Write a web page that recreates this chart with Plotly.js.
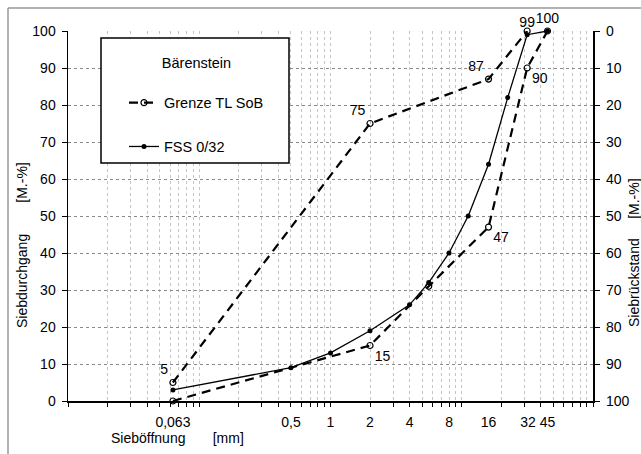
<!DOCTYPE html>
<html><head><meta charset="utf-8">
<script src="https://cdn.plot.ly/plotly-3.0.1.min.js"></script>
<style>html,body{margin:0;padding:0;background:#fff}#chart{width:641px;height:454px}</style>
</head><body><div id="chart"></div>
<script>
// Sieve sizes [mm] and passing [M.-%]
const sieveFSS = [0.063, 0.5, 1, 2, 4, 5.6, 8, 11.2, 16, 22.4, 31.5, 45];
const passFSS  = [3, 9, 13, 19, 26, 32, 40, 50, 64, 82, 99, 100];
const labelFSS = ['', '', '', '', '', '', '', '', '', '', '99', ''];

const sieveUpper = [0.063, 2, 16, 31.5];
const passUpper  = [5, 75, 87, 100];
const labelUpper = ['5', '75', '87', ''];

const sieveLower = [0.063, 2, 5.6, 16, 31.5, 45];
const passLower  = [0, 15, 31, 47, 90, 100];
const labelLower = ['', '15', '', '47', '90', '100'];

const xLabelVals = [0.063, 0.5, 1, 2, 4, 8, 16, 32, 45];
const xLabelText = ['0,063', '0,5', '1', '2', '4', '8', '16', '32', '45'];
const yTickVals  = [0, 10, 20, 30, 40, 50, 60, 70, 80, 90, 100];

// log grid positions 1..9 x 10^k from 0.01 to 100
const gridVals = [];
for (let k = -2; k <= 1; k++) for (let m = 1; m <= 9; m++) gridVals.push(+(m * Math.pow(10, k)).toPrecision(3));
gridVals.push(100);

const FONT = 'Liberation Sans, Arial, sans-serif';
const L = 68, R = 593, T = 31, B = 401, W = 641, H = 454;
const px = x => (x - L) / (R - L);
const py = y => (B - y) / (B - T);

const traces = [
  {
    x: sieveUpper, y: passUpper, text: labelUpper, name: 'Grenze TL SoB', legendgroup: 'g',
    mode: 'lines+markers+text', textposition: ['top left', 'top left', 'top left', 'top left'],
    textfont: {family: FONT, size: 14, color: '#000'},
    line: {color: '#000', width: 2.2, dash: '9px,6px'},
    marker: {symbol: 'circle-open', size: 6, color: '#000', line: {width: 1.2}},
    cliponaxis: false, hoverinfo: 'x+y'
  },
  {
    x: sieveLower, y: passLower, text: labelLower, name: 'Grenze TL SoB', legendgroup: 'g', showlegend: false,
    mode: 'lines+markers+text', textposition: ['bottom right', 'bottom right', 'bottom right', 'bottom right', 'bottom right', 'top center'],
    textfont: {family: FONT, size: 14, color: '#000'},
    line: {color: '#000', width: 2.2, dash: '9px,6px'},
    marker: {symbol: 'circle-open', size: 6, color: '#000', line: {width: 1.2}},
    cliponaxis: false, hoverinfo: 'x+y'
  },
  {
    x: sieveFSS, y: passFSS, text: labelFSS, name: 'FSS 0/32', legendgroup: 'f',
    mode: 'lines+markers+text', textposition: 'top center',
    textfont: {family: FONT, size: 14, color: '#000'},
    line: {color: '#000', width: 1.3},
    marker: {symbol: 'circle', size: 5, color: '#000'},
    cliponaxis: false, hoverinfo: 'x+y'
  },
  // carrier for the secondary axes (label axis and Siebrückstand axis), no marks
  {x: [], y: [], xaxis: 'x2', yaxis: 'y2', type: 'scatter', mode: 'lines', showlegend: false, hoverinfo: 'skip'}
];

const xr = [Math.log10(0.01), Math.log10(100)];

const layout = {
  width: W, height: H,
  margin: {l: L, r: W - R, t: T, b: H - B, pad: 0},
  paper_bgcolor: '#fff', plot_bgcolor: '#fff',
  font: {family: FONT, size: 14, color: '#000'},
  showlegend: true,
  hovermode: false,
  legend: {
    x: px(124), y: py(49), xanchor: 'left', yanchor: 'top',
    bgcolor: 'rgba(0,0,0,0)', borderwidth: 0,
    font: {family: FONT, size: 14.5, color: '#000'},
    title: {text: 'Bärenstein<br> ', side: 'top center', font: {family: FONT, size: 14.5}},
    traceorder: 'grouped', tracegroupgap: 22, itemwidth: 30
  },
  xaxis: {
    type: 'log', range: xr, tickmode: 'array', tickvals: gridVals,
    ticktext: gridVals.map(() => ''), ticks: 'outside', ticklen: 4, tickcolor: '#000', tickwidth: 1,
    showgrid: true, gridcolor: '#c4c4c4', griddash: 'dot', gridwidth: 1,
    showline: true, linecolor: '#000', linewidth: 1.5, zeroline: false
  },
  xaxis2: {
    type: 'log', range: xr, overlaying: 'x', side: 'bottom', anchor: 'y2',
    tickmode: 'array', tickvals: xLabelVals, ticktext: xLabelText,
    ticks: 'outside', ticklen: 8, tickcolor: 'rgba(0,0,0,0)',
    showgrid: false, showline: false, zeroline: false,
    tickfont: {family: FONT, size: 14, color: '#000'}
  },
  yaxis: {
    range: [0, 100], tickmode: 'array', tickvals: yTickVals,
    ticks: 'outside', ticklen: 5, tickcolor: '#000',
    showgrid: true, gridcolor: '#8a8a8a', griddash: 'dot', gridwidth: 1,
    showline: true, linecolor: '#000', linewidth: 1.5, zeroline: false,
    ticklabelstandoff: 3,
    tickfont: {family: FONT, size: 14, color: '#000'}
  },
  yaxis2: {
    range: [100, 0], overlaying: 'y', side: 'right', anchor: 'x2',
    tickmode: 'array', tickvals: yTickVals,
    ticks: 'outside', ticklen: 5, tickcolor: '#000',
    showgrid: false, showline: true, linecolor: '#000', linewidth: 2.2, zeroline: false,
    ticklabelstandoff: 3,
    tickfont: {family: FONT, size: 14, color: '#000'}
  },
  annotations: [
    {xref: 'paper', yref: 'paper', x: px(22), y: py(245), xanchor: 'center', yanchor: 'middle',
     textangle: -90, showarrow: false, text: 'Siebdurchgang&nbsp;&nbsp;&nbsp;&nbsp;&nbsp;&nbsp;&nbsp;&nbsp;[M.-%]',
     font: {family: FONT, size: 14, color: '#000'}},
    {xref: 'paper', yref: 'paper', x: px(634), y: py(253), xanchor: 'center', yanchor: 'middle',
     textangle: -90, showarrow: false, text: 'Siebrückstand&nbsp;&nbsp;&nbsp;&nbsp;&nbsp;[M.-%]',
     font: {family: FONT, size: 14, color: '#000'}},
    {xref: 'paper', yref: 'paper', x: px(109), y: py(438), xanchor: 'left', yanchor: 'middle',
     showarrow: false, text: 'Sieböffnung&nbsp;&nbsp;&nbsp;&nbsp;&nbsp;&nbsp;&nbsp;[mm]',
     font: {family: FONT, size: 14, color: '#000'}}
  ],
  shapes: [
    {type: 'line', xref: 'paper', yref: 'paper', x0: px(8), x1: px(641), y0: py(8), y1: py(8),
     line: {color: '#999', width: 1.5}},
    {type: 'line', xref: 'paper', yref: 'paper', x0: px(8), x1: px(8), y0: py(8), y1: py(454),
     line: {color: '#999', width: 1.5}},
    {type: 'rect', xref: 'paper', yref: 'paper', x0: px(101), x1: px(289), y0: py(38), y1: py(163),
     line: {color: '#000', width: 1.5}, fillcolor: '#fff', layer: 'above'}
  ]
};

Plotly.newPlot('chart', traces, layout, {displayModeBar: false, responsive: false, staticPlot: true});
</script>
</body></html>
